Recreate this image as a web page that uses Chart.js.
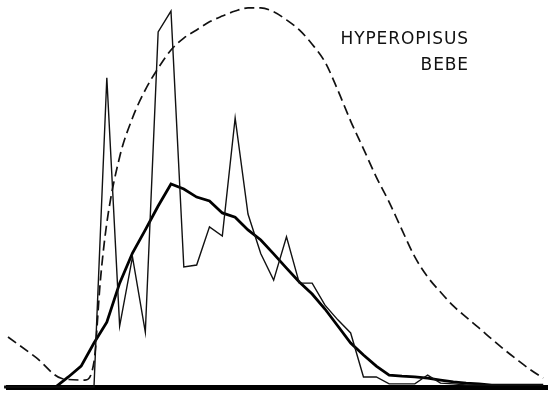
<!DOCTYPE html>
<html>
<head>
<meta charset="utf-8">
<script src="https://cdn.jsdelivr.net/npm/chart.js@4"></script>
<style>
  html, body { margin: 0; padding: 0; background: #fff; }
  #wrap { width: 550px; height: 398px; }
</style>
</head>
<body>
<div id="wrap"><canvas id="lengthChart"></canvas></div>
<script>
// length classes (x) shared by the observed and smoothed curves
const lengthClass = [0, 1, 2, 3, 4, 5, 6, 7, 8, 9, 10, 11, 12, 13, 14, 15, 16, 17, 18, 19, 20,
  21, 22, 23, 24, 25, 26, 27, 28, 29, 30, 31, 32, 33, 34, 35, 36, 37, 38, 39, 40, 41, 42];

// observed frequency (thin line)
const observed = [0, 0, 0, 0, 0, 0, 0, 0, 80.1, 15.8, 33.7, 14.2, 92.0, 97.4, 31.1, 31.6, 41.5,
  39.1, 69.7, 44.8, 34.5, 27.7, 38.9, 26.9, 26.9, 21.2, 17.4, 14.0, 2.6, 2.6, 0.8, 0.8, 0.8,
  3.1, 1.0, 0.8, 0.5, 0.5, 0.5, 0.5, 0.5, 0.5, 0.5];

// smoothed frequency (thick line)
const smoothed = [0, 0, 0, 0, 0, 2.6, 5.4, 11.4, 16.8, 26.9, 34.7, 40.7, 46.9, 52.6, 51.3, 49.2,
  48.2, 45.1, 44.0, 40.7, 38.1, 34.5, 30.8, 27.2, 24.1, 20.2, 15.8, 11.4, 8.3, 5.4, 3.1, 2.8,
  2.6, 2.3, 1.8, 1.3, 1.0, 0.8, 0.5, 0.5, 0.5, 0.5, 0.5];

// dashed curve
const curveClass = [0.3, 2.5, 4.5, 6.3, 7, 7.5, 8, 9, 10, 11, 12, 13, 14, 15, 16, 17, 18, 19, 20,
  21, 22, 23, 24, 25, 26, 27, 28, 29, 30, 31, 32, 33, 34, 35, 36, 37, 38, 39, 40, 41, 42];
const curveValue = [12.95, 7.6, 2.2, 1.8, 6.5, 27.7, 42.5, 59.6, 69.7, 77.0, 82.6, 87.3, 90.4,
  92.5, 94.6, 96.1, 97.4, 98.2, 98.2, 97.2, 95.1, 92.5, 88.8, 84.2, 76.9, 68.9, 61.7, 54.4, 47.9,
  40.7, 33.7, 28.5, 24.6, 21.0, 18.1, 15.3, 12.4, 9.6, 7.0, 4.5, 2.3];

const speciesLabel = ['HYPEROPISUS', 'BEBE'];

const toPoints = (xs, ys) => xs.map((x, i) => ({ x: x, y: ys[i] }));

const labelPlugin = {
  id: 'speciesLabel',
  afterDraw(chart) {
    const c = chart.ctx;
    c.save();
    c.fillStyle = '#111';
    c.font = '17px "DejaVu Sans"';
    c.letterSpacing = '0.9px';
    c.textAlign = 'right';
    c.textBaseline = 'middle';
    c.fillText(speciesLabel[0], 469, 40);
    c.fillText(speciesLabel[1], 469, 66);
    c.restore();
  }
};

const ctx = document.getElementById('lengthChart').getContext('2d');

new Chart(ctx, {
  type: 'line',
  data: {
    datasets: [
      {
        data: toPoints(curveClass, curveValue),
        borderColor: '#111',
        borderWidth: 1.7,
        borderDash: [10, 5],
        cubicInterpolationMode: 'monotone',
        pointRadius: 0
      },
      {
        data: toPoints(lengthClass, observed),
        borderColor: '#111',
        borderWidth: 1.4,
        tension: 0,
        pointRadius: 0
      },
      {
        data: toPoints(lengthClass, smoothed),
        borderColor: '#000',
        borderWidth: 2.8,
        tension: 0,
        pointRadius: 0
      }
    ]
  },
  options: {
    responsive: true,
    maintainAspectRatio: false,
    animation: false,
    layout: { padding: { left: 8, right: 3, top: 1, bottom: 11 } },
    plugins: {
      legend: { display: false },
      tooltip: { enabled: false }
    },
    scales: {
      x: {
        type: 'linear',
        min: 0.3,
        max: 42.3,
        grid: { display: false, drawTicks: false },
        ticks: { display: false },
        border: { display: true, width: 5, color: '#000' }
      },
      y: {
        min: 0,
        max: 100,
        display: false
      }
    },
    elements: { line: { fill: false } },
    clip: false
  },
  plugins: [labelPlugin]
});
</script>
</body>
</html>
